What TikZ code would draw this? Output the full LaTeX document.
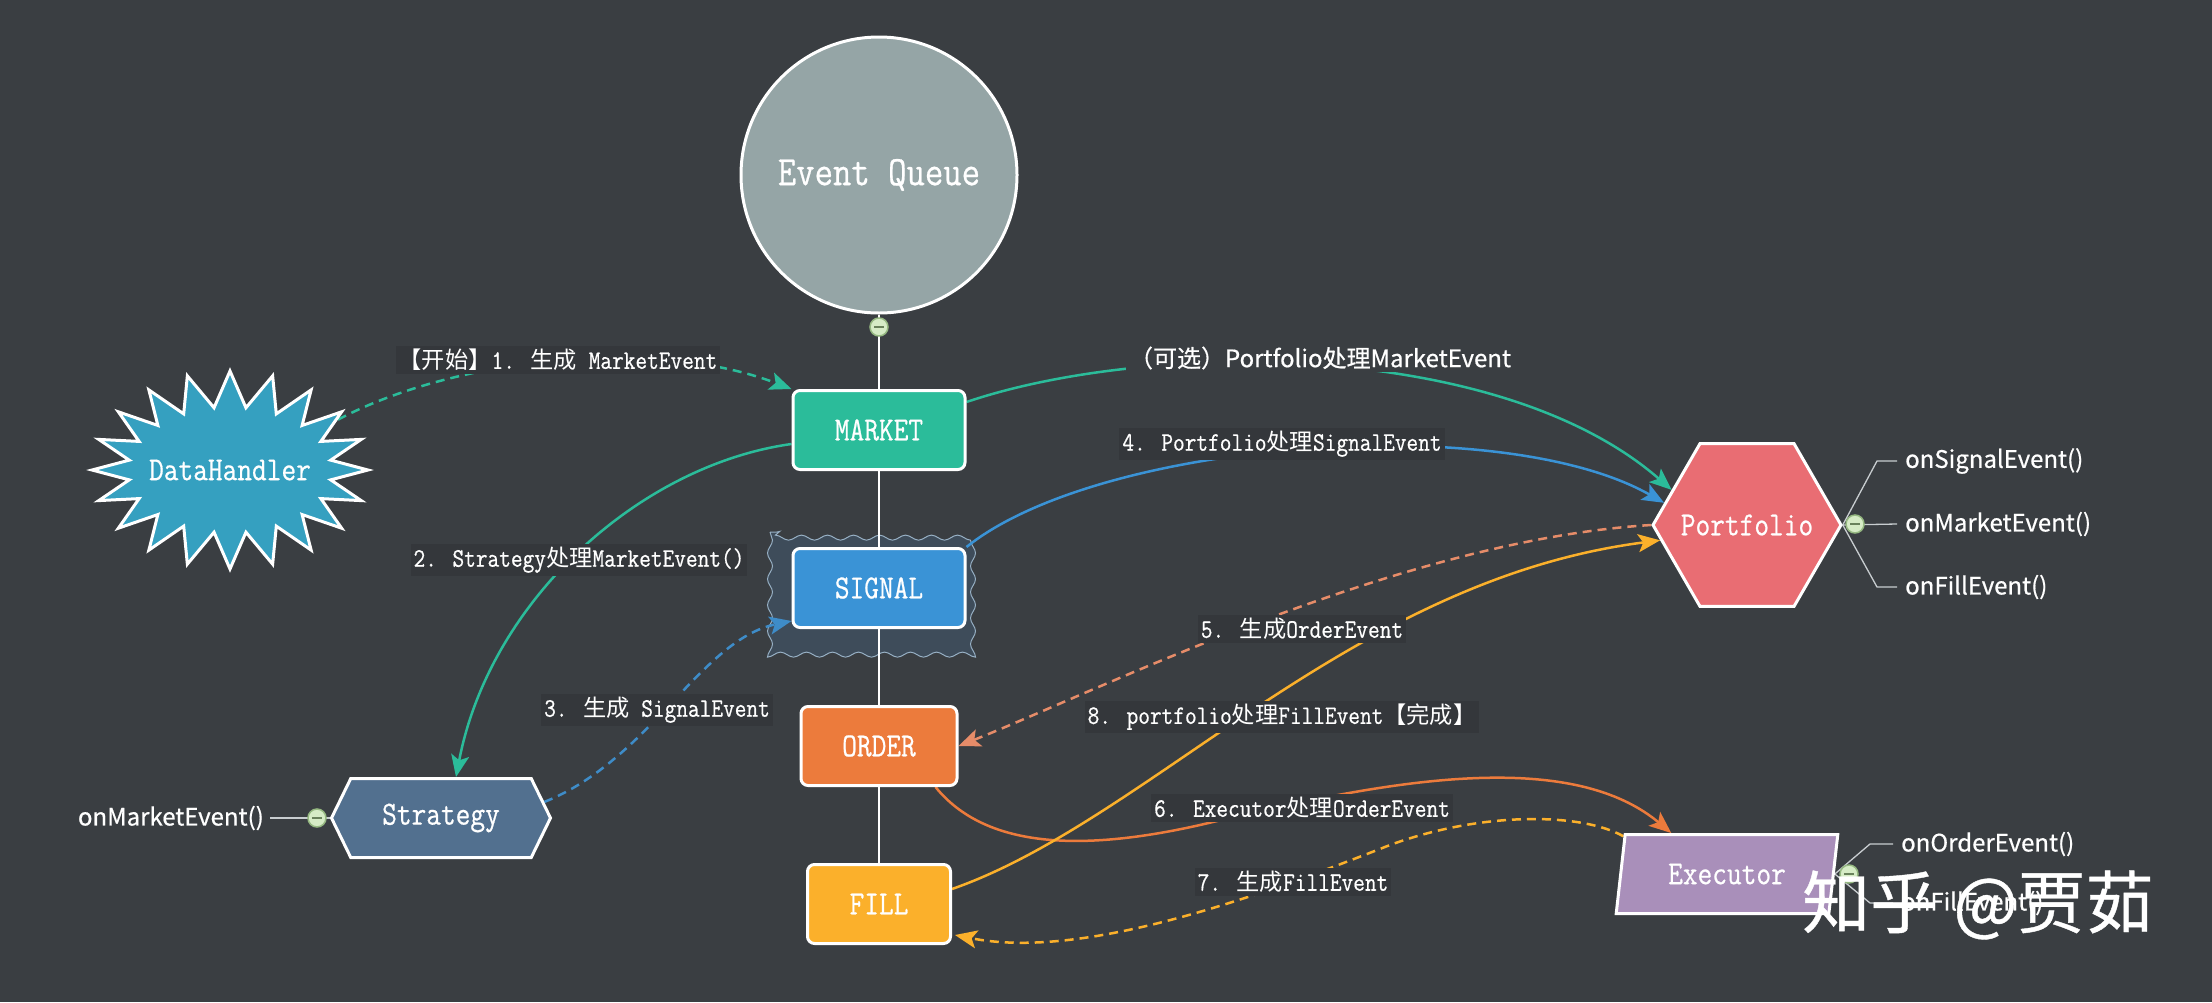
\documentclass[tikz,border=0pt]{standalone}
\usepackage{fontspec}
\setmainfont{Liberation Sans}
\newfontfamily\monof{Latin Modern Mono}[FakeStretch=0.85,FakeBold=0.6]
\newfontfamily\zh{Noto Sans CJK SC}[Scale=0.87]
\newfontfamily\sansf{Noto Sans CJK SC}[FakeBold=0.6]
\usetikzlibrary{shapes.geometric,shapes.symbols,arrows.meta,calc,decorations.pathmorphing}
\definecolor{bgc}{RGB}{58,62,66}
\definecolor{lblbg}{RGB}{52,55,59}
\definecolor{eqc}{RGB}{149,165,166}
\definecolor{mktc}{RGB}{43,188,154}
\definecolor{sigc}{RGB}{58,147,214}
\definecolor{ordc}{RGB}{236,123,60}
\definecolor{filc}{RGB}{251,176,43}
\definecolor{datc}{RGB}{53,160,192}
\definecolor{strc}{RGB}{82,112,143}
\definecolor{porc}{RGB}{233,109,115}
\definecolor{exc}{RGB}{169,143,186}
\definecolor{dotfill}{RGB}{214,236,198}
\definecolor{dotline}{RGB}{150,185,130}
\definecolor{treec}{RGB}{200,205,208}
\definecolor{ordd}{RGB}{230,140,105}
\definecolor{sigd}{RGB}{62,140,200}
\definecolor{wavyfill}{RGB}{62,76,90}
\definecolor{wavyline}{RGB}{150,175,195}
\pgfdeclarelayer{bgl}
\pgfdeclarelayer{edges}
\pgfsetlayers{bgl,edges,main}
\begin{document}
\begin{tikzpicture}[x=1pt,y=-1pt,
  box/.style={draw=white, line width=3pt, rounded corners=7pt, minimum height=79pt,
    text=white, font=\monof\fontsize{33.6}{35}\selectfont, inner sep=0pt},
  shp/.style={draw=white, line width=3pt, text=white, inner sep=0pt,
    font=\monof\fontsize{33.6}{35}\selectfont},
  ctext/.style={text=white, font=\monof\fontsize{33.6}{35}\selectfont, inner sep=0pt},
  lbl/.style={fill=lblbg, text=white, inner sep=3pt, font=\monof\fontsize{26.7}{28}\selectfont},
  slbl/.style={fill=bgc, text=white, inner sep=3pt, font=\sansf\fontsize{24}{27}\selectfont},
  conn/.style={line width=2.5pt, -{Stealth[length=22pt,width=18pt,inset=5pt]}},
  dashconn/.style={conn, dash pattern=on 9pt off 6pt},
  dotc/.style={circle, fill=dotfill, draw=dotline, line width=1.5pt, minimum size=18pt, inner sep=0pt,
    path picture={\draw[dotline!70!black, line width=1.5pt]
      ([xshift=-5pt]path picture bounding box.center) -- ([xshift=5pt]path picture bounding box.center);}},
  tree/.style={draw=treec, line width=1.3pt},
  meth/.style={text=white, font=\sansf\fontsize{24}{27}\selectfont, anchor=west, inner sep=0pt}
]
\useasboundingbox (0,0) rectangle (2212,1002);
\begin{pgfonlayer}{bgl}
  \fill[bgc] (0,0) rectangle (2212,1002);
  \draw[decorate, decoration={snake, segment length=26pt, amplitude=2.5pt},
        draw=wavyline, fill=wavyfill, line width=1pt] (770,532) rectangle (986,646);
\end{pgfonlayer}

% main nodes
\node[circle, minimum size=276pt, fill=eqc, shp, font=\monof\fontsize{42}{44}\selectfont] (eq) at (879,175) {Event Queue};
\node[box, fill=mktc, minimum width=172pt] (market) at (879,430) {MARKET};
\node[box, fill=sigc, minimum width=172pt] (signal) at (879,588) {SIGNAL};
\node[box, fill=ordc, minimum width=156pt] (order) at (879,746) {ORDER};
\node[box, fill=filc, minimum width=143pt] (fill) at (879,904) {FILL};
\node[dotc] (eqdot) at (879,327) {};

\node[starburst, starburst points=20, starburst point height=36pt, random starburst=0,
      minimum width=276pt, minimum height=198pt, fill=datc, shp,
      label={[ctext]center:DataHandler}] (data) at (230,470) {};

\node[signal, signal to=west and east, signal pointer angle=128, minimum width=219pt,
      minimum height=79pt, fill=strc, shp] (strat) at (441,818) {Strategy};

\node[regular polygon, regular polygon sides=6, minimum size=188pt, fill=porc, shp,
      label={[ctext]center:Portfolio}] (port) at (1747,525) {};

\node[trapezium, trapezium left angle=76, trapezium right angle=104, minimum width=222pt,
      minimum height=79pt, fill=exc, shp, trapezium stretches=true] (exec) at (1727,874) {Executor};

% method trees
\node[meth, anchor=east] (sm) at (264,818) {onMarketEvent()};
\node[meth] (pm1) at (1905,461) {onSignalEvent()};
\node[meth] (pm2) at (1905,524) {onMarketEvent()};
\node[meth] (pm3) at (1905,587) {onFillEvent()};
\node[meth] (em1) at (1901,844) {onOrderEvent()};
\node[meth] (em2) at (1901,903) {onFillEvent()};
\coordinate (exo) at ($(exec.top right corner)!0.5!(exec.bottom right corner)$);

\begin{pgfonlayer}{edges}
  % vertical spine
  \draw[white, line width=2.5pt] (eq.south) -- (market.north);
  \draw[white, line width=2.5pt] (market.south) -- (signal.north);
  \draw[white, line width=2.5pt] (signal.south) -- (order.north);
  \draw[white, line width=2.5pt] (order.south) -- (fill.north);
  % trees
  \draw[tree] (strat.west) -- ($(sm.east)+(6,0)$);
  \draw[tree] (port.east) -- ($(pm2.west)+(-8,0)$);
  \draw[tree] (port.east) -- ($(pm1.west)+(-28,0)$) -- ($(pm1.west)+(-8,0)$);
  \draw[tree] (port.east) -- ($(pm3.west)+(-28,0)$) -- ($(pm3.west)+(-8,0)$);
  \draw[tree] (exo) -- ($(em1.west)+(-31,0)$) -- ($(em1.west)+(-8,0)$);
  \draw[tree] (exo) -- ($(em2.west)+(-31,0)$) -- ($(em2.west)+(-8,0)$);
  % connectors
  \draw[dashconn, mktc] (data.25) .. controls (450,360) and (650,335) .. (market.north west);
  \draw[conn, mktc] ($(market.west)+(0,14)$) .. controls (640,465) and (490,600) .. ($(strat.north)+(15,0)$);
  \draw[dashconn, sigd] ($(strat.east)+(-8,-16)$) .. controls (650,760) and (700,640) .. ($(signal.south west)+(0,-8)$);
  \draw[conn, mktc] ($(market.east)+(0,-28)$) .. controls (1150,340) and (1500,340) .. (port.155);
  \draw[conn, sigc] (signal.north east) .. controls (1100,440) and (1500,410) .. (port.165);
  \draw[dashconn, ordd] (port.180) .. controls (1400,540) and (1100,690) .. (order.east);
  \draw[conn, ordc] ($(order.south east)+(-23,0)$) .. controls (985,848) and (1080,852) .. (1200,825)
        .. controls (1350,790) and (1560,740) .. ($(exec.top left corner)!0.22!(exec.top right corner)$);
  \draw[dashconn, filc] ($(exec.top left corner)!0.04!(exec.bottom left corner)$) .. controls (1580,812) and (1480,812) .. (1390,845)
        .. controls (1250,900) and (1080,960) .. ($(fill.south east)+(3,-10)$);
  \draw[conn, filc] ($(fill.east)+(0,-15)$) .. controls (1150,820) and (1350,580) .. (port.190);
\end{pgfonlayer}

\node[dotc] (sdot) at (317,818) {};
\node[dotc] (pdot) at (1855,524) {};
\node[dotc] (edot) at (1849,874) {};

% labels
\node[lbl] (l1) at (558,360) {{\zh 【开始】}1. {\zh 生成} MarketEvent};
\node[slbl] (l0) at (1320,358) {（可选）Portfolio处理MarketEvent};
\node[lbl] (l4) at (1282,444) {4. Portfolio{\zh 处理}SignalEvent};
\node[lbl] (l2) at (579,560) {2. Strategy{\zh 处理}MarketEvent()};
\node[lbl] (l3) at (657,710) {3. {\zh 生成} SignalEvent};
\node[lbl] (l5) at (1302,629) {5. {\zh 生成}OrderEvent};
\node[lbl] (l8) at (1282,717) {8. portfolio{\zh 处理}FillEvent{\zh 【完成】}};
\node[lbl] (l6) at (1302,808) {6. Executor{\zh 处理}OrderEvent};
\node[lbl] (l7) at (1293,882) {7. {\zh 生成}FillEvent};

% watermark
\node[text=white, inner sep=0pt, font=\sansf\fontsize{68}{70}\selectfont] (wm) at (1978,905) {知乎 @贾茹};
\end{tikzpicture}
\end{document}
